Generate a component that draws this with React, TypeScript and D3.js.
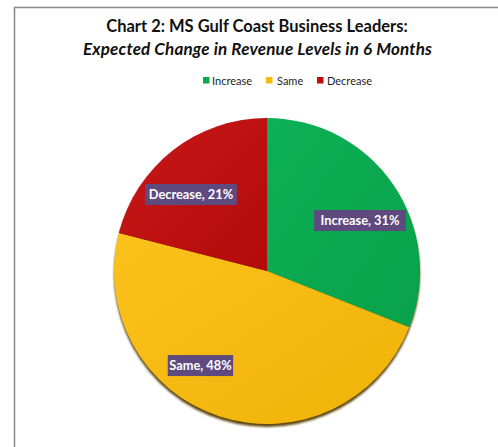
import React from "react";
import * as d3 from "d3";

const categories = ["Increase", "Same", "Decrease"];
const values = [31, 48, 21];
const colors = ["#0aab50", "#f7bb10", "#c00c0c"];
const colorsLight = ["#0cb055", "#fcc21c", "#c81818"];
const colorsDark = ["#08a24b", "#efb208", "#b30a0a"];
const titleLine1 = "Chart 2: MS Gulf Coast Business Leaders:";
const titleLine2 = "Expected Change in Revenue Levels in 6 Months";

// label placement (layout, in units of radius relative to centre)
const labelOffsets: [number, number][] = [
  [0.608, -0.33],
  [-0.435, 0.618],
  [-0.497, -0.5],
];

const W = 498;
const H = 447;
const cx = 267;
const cy = 271;
const R = 153;
const FONT = "Lato, 'Open Sans', sans-serif";

export default function App() {
  const pie = d3
    .pie<number>()
    .sort(null)
    .value((d) => d)(values);
  const arc = d3.arc<d3.PieArcDatum<number>>().innerRadius(0).outerRadius(R);

  const legendItems = [
    { x: 203, tx: 212 },
    { x: 266, tx: 277 },
    { x: 317, tx: 327 },
  ];

  return (
    <svg
      width={W}
      height={H}
      style={{ position: "absolute", left: 0, top: 0, background: "#fff" }}
    >
      <defs>
        {categories.map((c, i) => (
          <linearGradient
            key={c}
            id={`g${i}`}
            x1="0"
            y1="0"
            x2="1"
            y2="1"
          >
            <stop offset="0%" stopColor={colorsLight[i]} />
            <stop offset="100%" stopColor={colorsDark[i]} />
          </linearGradient>
        ))}
        <filter id="blur" x="-10%" y="-10%" width="120%" height="120%">
          <feGaussianBlur stdDeviation="0.8" />
        </filter>
      </defs>
      <rect x={0} y={0} width={W} height={H} fill="#fff" />
      <path
        d={`M14.5,${H} L14.5,7.5 L${W},7.5`}
        fill="none"
        stroke="#888"
        strokeWidth={1.5}
      />
      <text
        x={257}
        y={32}
        textAnchor="middle"
        fontFamily={FONT}
        fontWeight="bold"
        fontSize={16.5}
        fill="#111"
      >
        {titleLine1}
      </text>
      <text
        x={257.5}
        y={55}
        textAnchor="middle"
        fontFamily={FONT}
        fontWeight="bold"
        fontStyle="italic"
        fontSize={17}
        fill="#111"
        textLength={349}
        lengthAdjust="spacing"
      >
        {titleLine2}
      </text>
      {categories.map((c, i) => (
        <g key={c}>
          <rect
            x={legendItems[i].x}
            y={77}
            width={6.5}
            height={6.5}
            fill={colors[i]}
          />
          <text
            x={legendItems[i].tx}
            y={85}
            fontFamily={FONT}
            fontSize={11}
            fill="#222"
          >
            {c}
          </text>
        </g>
      ))}
      <g transform={`translate(${cx},${cy})`}>
        <circle cx={0} cy={3} r={R} fill="#5e470a" filter="url(#blur)" />
        {pie.map((p, i) => (
          <path key={categories[i]} d={arc(p) || ""} fill={`url(#g${i})`} />
        ))}
        {pie.map((p, i) => {
          const label = `${categories[i]}, ${values[i]}%`;
          const lx = labelOffsets[i][0] * R;
          const ly = labelOffsets[i][1] * R;
          const w = label.length * 6.6 + 6;
          return (
            <g key={"l" + i}>
              <rect
                x={lx - w / 2}
                y={ly - 10.5}
                width={w}
                height={21}
                fill="#5e4a7e"
              />
              <text
                x={lx}
                y={ly + 4.5}
                textAnchor="middle"
                fontFamily={FONT}
                fontWeight="bold"
                fontSize={12.8}
                fill="#fff"
              >
                {label}
              </text>
            </g>
          );
        })}
      </g>
    </svg>
  );
}
